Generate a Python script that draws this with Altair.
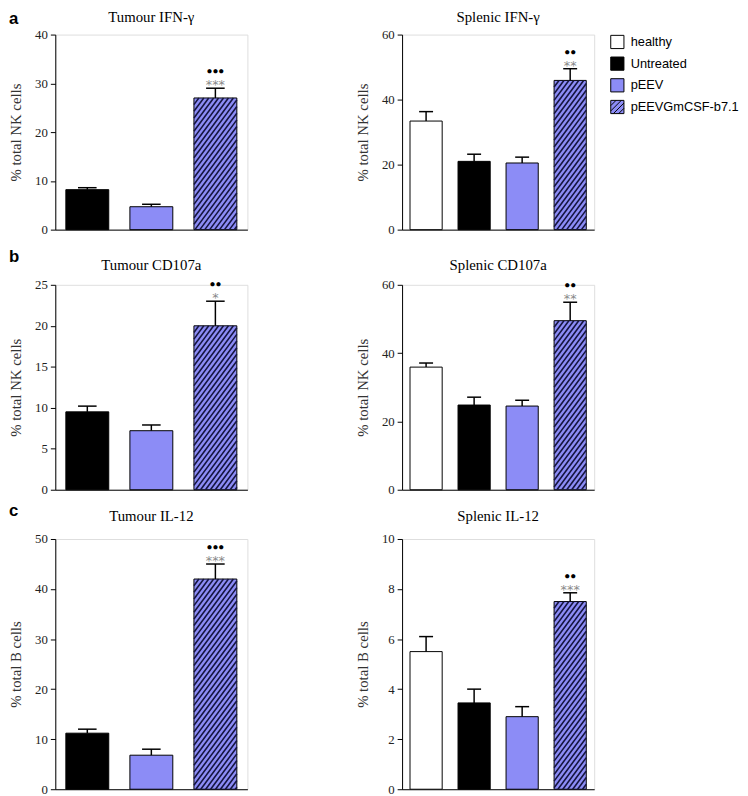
import altair as alt
import pandas as pd

GROUPS = ["healthy", "Untreated", "pEEV", "pEEVGmCSF-b7.1"]
GROUP_FILLS = ["#ffffff", "#000000", "#8c8cf6", "#8c8cf6"]
HATCHED = "pEEVGmCSF-b7.1"

TUMOUR_GROUPS = ["Untreated", "pEEV", "pEEVGmCSF-b7.1"]
SPLENIC_GROUPS = ["healthy", "Untreated", "pEEV", "pEEVGmCSF-b7.1"]

A_TUMOUR_MEAN = [8.2, 4.7, 27.0]
A_TUMOUR_SEM = [0.4, 0.5, 2.0]
A_SPLENIC_MEAN = [33.4, 21.0, 20.5, 45.9]
A_SPLENIC_SEM = [2.9, 2.2, 1.8, 3.6]
B_TUMOUR_MEAN = [9.5, 7.2, 20.0]
B_TUMOUR_SEM = [0.7, 0.7, 3.0]
B_SPLENIC_MEAN = [35.9, 24.8, 24.5, 49.5]
B_SPLENIC_SEM = [1.2, 2.3, 1.7, 5.4]
C_TUMOUR_MEAN = [11.2, 6.8, 42.0]
C_TUMOUR_SEM = [0.8, 1.2, 3.0]
C_SPLENIC_MEAN = [5.5, 3.45, 2.9, 7.5]
C_SPLENIC_SEM = [0.6, 0.55, 0.4, 0.35]

A_TUMOUR_TICKS = [0, 10, 20, 30, 40]
A_SPLENIC_TICKS = [0, 20, 40, 60]
B_TUMOUR_TICKS = [0, 5, 10, 15, 20, 25]
B_SPLENIC_TICKS = [0, 20, 40, 60]
C_TUMOUR_TICKS = [0, 10, 20, 30, 40, 50]
C_SPLENIC_TICKS = [0, 2, 4, 6, 8, 10]

A_TUMOUR_SIG = ["●●●", "***"]
A_SPLENIC_SIG = ["●●", "**"]
B_TUMOUR_SIG = ["●●", "*"]
B_SPLENIC_SIG = ["●●", "**"]
C_TUMOUR_SIG = ["●●●", "***"]
C_SPLENIC_SIG = ["●●", "***"]

PANEL_LETTERS = ["a", "b", "c"]
NK_TITLE = "% total NK cells"
B_TITLE = "% total B cells"

W = 195
SERIF = "Liberation Serif"
SANS = "Liberation Sans"
HALF = 0.335
CAP = 0.145

# legend symbol for the hatched group (unit square with diagonal strokes)
HATCH_PATH = ("M-1,-1L1,-1L1,1L-1,1Z M-1,-0.2L-0.2,-1 M-1,0.6L0.6,-1 "
              "M-0.6,1L1,-0.6 M0.2,1L1,0.2")
SHAPES = ["square", "square", "square", HATCH_PATH]


def hatch_segments(i, top, n, ymax, H, step=5.0, slope=1.35):
    x0 = (i - HALF + 0.5) / n * W
    x1 = (i + HALF + 0.5) / n * W
    h = top / ymax * H
    segs = []
    c = x0 - h / slope
    while c < x1:
        t_lo = max(0.0, (x0 - c) * slope)
        t_hi = min(h, (x1 - c) * slope)
        if t_hi > t_lo + 0.3:
            p_lo = c + t_lo / slope
            p_hi = c + t_hi / slope
            segs.append(dict(hx=p_lo / W * n - 0.5, hy=t_lo / H * ymax,
                             hx2=p_hi / W * n - 0.5, hy2=t_hi / H * ymax))
        c += step
    return segs


def panel(title, groups, means, sems, ticks, ytitle, sig, H, legend=False,
          letter=None, letter_y=-16, title_y=-16):
    n = len(groups)
    ymax = ticks[-1]
    fills = [GROUP_FILLS[GROUPS.index(g)] for g in groups]
    df = pd.DataFrame({
        "group": groups,
        "pos": list(range(n)),
        "mean": means,
        "top": [m + s for m, s in zip(means, sems)],
        "fillc": fills,
    })
    df["x0"] = df["pos"] - HALF
    df["x1"] = df["pos"] + HALF
    df["c0"] = df["pos"] - CAP
    df["c1"] = df["pos"] + CAP
    df["half"] = df["mean"] / 2

    xsc = alt.Scale(domain=[-0.5, n - 0.5], nice=False, zero=False)
    ysc = alt.Scale(domain=[0, ymax], nice=False, zero=True)
    xax = alt.Axis(labels=False, ticks=False, title=None, grid=False,
                   domainColor="black", domainWidth=1, minExtent=0, maxExtent=0)
    yax = alt.Axis(values=ticks, title=ytitle, grid=False, domainColor="black",
                   tickColor="black", tickSize=5, labelPadding=3,
                   labelFont=SERIF, labelFontSize=13, labelColor="#222",
                   titleFont=SERIF, titleFontSize=15, titleFontWeight="normal",
                   titleColor="#333", titlePadding=11)

    def X(f):
        return alt.X(f"{f}:Q", scale=xsc, axis=xax)

    def Y(f):
        return alt.Y(f"{f}:Q", scale=ysc, axis=yax)

    base = alt.Chart(df)
    layers = []
    if legend:
        leg = alt.Legend(title=None, orient="right", offset=16, padding=0,
                         labelFont=SANS, labelFontSize=13, labelColor="black",
                         symbolSize=180, rowPadding=3, labelOffset=6,
                         symbolStrokeWidth=1)
        layers.append(base.mark_point(filled=True, size=180, strokeWidth=1,
                                      opacity=1).encode(
            x=X("pos"), y=Y("half"),
            fill=alt.Fill("group:N", scale=alt.Scale(domain=GROUPS, range=GROUP_FILLS), legend=leg),
            shape=alt.Shape("group:N", scale=alt.Scale(domain=GROUPS, range=SHAPES), legend=leg),
            stroke=alt.Stroke("group:N", scale=alt.Scale(domain=GROUPS, range=["#000000"] * 4), legend=leg),
        ))
    layers.append(base.mark_rect(stroke="black", strokeWidth=1).encode(
        x=X("x0"), x2="x1", y=Y("mean"), y2=alt.datum(0),
        fill=alt.Fill("fillc:N", scale=None),
    ))
    hi = groups.index(HATCHED)
    hdf = pd.DataFrame(hatch_segments(hi, means[hi], n, ymax, H))
    layers.append(alt.Chart(hdf).mark_rule(color="#151540", strokeWidth=1.6).encode(
        x=X("hx"), x2="hx2", y=Y("hy"), y2="hy2"))
    layers.append(base.mark_rule(color="black", strokeWidth=1.5).encode(
        x=X("pos"), y=Y("mean"), y2="top"))
    layers.append(base.mark_rule(color="black", strokeWidth=1.5).encode(
        x=X("c0"), x2="c1", y=Y("top")))
    sdf = pd.DataFrame({"pos": [hi], "top": [df["top"][hi]],
                        "dots": [sig[0]], "stars": [sig[1]]})
    sb = alt.Chart(sdf)
    layers.append(sb.mark_text(font="DejaVu Sans", fontSize=13, color="#8a8a8a",
                               baseline="alphabetic", dy=1).encode(
        x=X("pos"), y=Y("top"), text="stars:N"))
    layers.append(sb.mark_text(font=SANS, fontSize=10, color="black",
                               baseline="alphabetic", dy=-14).encode(
        x=X("pos"), y=Y("top"), text="dots:N"))

    # panel heading (and panel letter) as text above the plot area
    tdf = pd.DataFrame({"title": [title]})
    layers.append(alt.Chart(tdf).mark_text(
        font=SERIF, fontSize=15, color="black", align="center",
        baseline="alphabetic").encode(
        x=alt.value(W / 2), y=alt.value(title_y), text="title:N"))
    if letter:
        ldf = pd.DataFrame({"letter": [letter]})
        layers.append(alt.Chart(ldf).mark_text(
            font=SANS, fontSize=17, fontWeight="bold", color="black",
            align="left", baseline="alphabetic").encode(
            x=alt.value(-47), y=alt.value(letter_y), text="letter:N"))

    return alt.layer(*layers).properties(width=W, height=H)


def row(left, right):
    return alt.hconcat(left, right, spacing=108).resolve_scale(
        fill="independent", shape="independent", stroke="independent").resolve_legend(
        fill="independent", shape="independent", stroke="independent")


row_a = row(panel("Tumour IFN-γ", TUMOUR_GROUPS, A_TUMOUR_MEAN, A_TUMOUR_SEM,
                  A_TUMOUR_TICKS, NK_TITLE, A_TUMOUR_SIG, 198,
                  letter=PANEL_LETTERS[0], letter_y=-11, title_y=-13),
            panel("Splenic IFN-γ", SPLENIC_GROUPS, A_SPLENIC_MEAN, A_SPLENIC_SEM,
                  A_SPLENIC_TICKS, NK_TITLE, A_SPLENIC_SIG, 198, legend=True,
                  title_y=-13))
row_b = row(panel("Tumour CD107a", TUMOUR_GROUPS, B_TUMOUR_MEAN, B_TUMOUR_SEM,
                  B_TUMOUR_TICKS, NK_TITLE, B_TUMOUR_SIG, 208,
                  letter=PANEL_LETTERS[1], letter_y=-23, title_y=-15),
            panel("Splenic CD107a", SPLENIC_GROUPS, B_SPLENIC_MEAN, B_SPLENIC_SEM,
                  B_SPLENIC_TICKS, NK_TITLE, B_SPLENIC_SIG, 208, title_y=-15))
row_c = row(panel("Tumour IL-12", TUMOUR_GROUPS, C_TUMOUR_MEAN, C_TUMOUR_SEM,
                  C_TUMOUR_TICKS, B_TITLE, C_TUMOUR_SIG, 254,
                  letter=PANEL_LETTERS[2], letter_y=-23, title_y=-18),
            panel("Splenic IL-12", SPLENIC_GROUPS, C_SPLENIC_MEAN, C_SPLENIC_SEM,
                  C_SPLENIC_TICKS, B_TITLE, C_SPLENIC_SIG, 254, title_y=-18))

bc = alt.vconcat(row_b, row_c, spacing=4).resolve_scale(
    fill="independent", shape="independent", stroke="independent").resolve_legend(
    fill="independent", shape="independent", stroke="independent")

chart = alt.vconcat(row_a, bc, spacing=10).resolve_scale(
    fill="independent", shape="independent", stroke="independent").resolve_legend(
    fill="independent", shape="independent", stroke="independent").properties(
    padding={"left": 0, "top": -5, "right": 0, "bottom": 0}
).configure_view(stroke=None).configure(background="white")

chart.save("out.html", embed_options={"renderer": "svg", "actions": False})
